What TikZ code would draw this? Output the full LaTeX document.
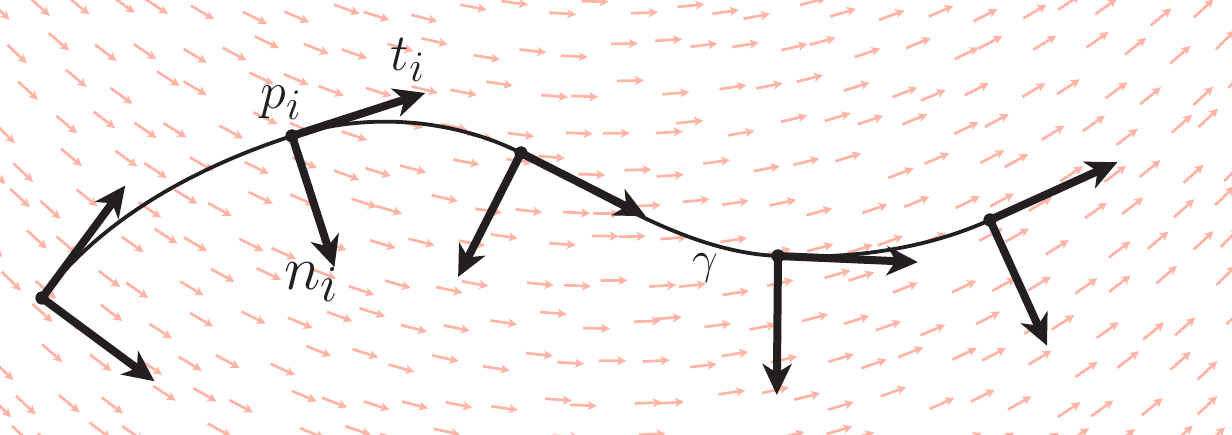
\documentclass[tikz,border=0pt]{standalone}
\usetikzlibrary{arrows.meta,calc}
\definecolor{ink}{RGB}{35,31,32}
\definecolor{fieldc}{RGB}{255,180,166}
\tikzset{
 field/.style={draw=fieldc, line width=2.7pt, -{Stealth[length=9pt,width=9pt,inset=2.2pt]}},
 curveline/.style={draw=ink, line width=3.8pt},
 framearrow/.style={draw=ink, line width=8pt, -{Stealth[length=31pt,width=29pt,inset=9pt]}},
 dot/.style={circle, fill=ink, inner sep=0pt, minimum size=13pt},
 lbl/.style={text=ink, inner sep=0pt, font=\Huge},
}
\begin{document}
\begin{tikzpicture}[x=1pt,y=-1pt]
\useasboundingbox (0,0) rectangle (1232,435);
\begin{scope}
\clip (0,0) rectangle (1232,435);
\pgfmathsetseed{11}
\foreach \j in {0,...,11}{
 \foreach \i in {0,...,29}{
   \pgfmathsetmacro\px{\i*43 - 8 + 21*mod(\j,2) + 12*rand}
   \pgfmathsetmacro\py{10 + \j*39 + 10*rand}
   \pgfmathsetmacro\a{45 - 0.07305*\px}
   \draw[field] (\px,\py) ++(\a+180:13.5) -- ++(\a:27);
 }
}
\end{scope}
% points
\node[dot] (p0) at (42,298) {};
\node[dot] (p1) at (292,136) {};
\node[dot] (p2) at (521,153) {};
\node[dot] (p3) at (778,256) {};
\node[dot] (p4) at (990,220) {};
% curve
\draw[curveline] (p0.center) .. controls (100.9,218.4) and (197.8,166.4) .. (p1.center)
  .. controls (366,112) and (452.8,118.4) .. (p2.center)
  .. controls (603,194.6) and (686,252) .. (p3.center)
  .. controls (850,259.1) and (924.4,249.7) .. (p4.center);
% frame coordinates
\coordinate (t0) at ($(p0.center)+(-53.5:140)$);
\coordinate (n0) at ($(p0.center)+(36.5:140)$);
\coordinate (t1) at ($(p1.center)+(-17.9:140)$);
\coordinate (n1) at ($(p1.center)+(72.1:138)$);
\coordinate (t2) at ($(p2.center)+(26.9:140)$);
\coordinate (n2) at ($(p2.center)+(116.9:139)$);
\coordinate (t3) at ($(p3.center)+(2.5:140)$);
\coordinate (n3) at ($(p3.center)+(90.5:139)$);
\coordinate (t4) at ($(p4.center)+(-24.4:140)$);
\coordinate (n4) at ($(p4.center)+(65.6:138)$);
\foreach \k in {0,...,4}{
  \draw[framearrow] (p\k.center) -- (t\k);
  \draw[framearrow] (p\k.center) -- (n\k);
}
\foreach \k in {0,...,4}{ \fill[ink] (p\k) circle (6.5pt); }
% labels
\node[lbl, scale=2.1] (lt) at (408,60) {$t_i$};
\node[lbl, scale=2.1] (lp) at (281,103) {$p_i$};
\node[lbl, scale=2.5] (ln) at (312,282) {$n_i$};
\node[lbl, scale=1.85] (lg) at (705,268) {$\gamma$};
\end{tikzpicture}
\end{document}
